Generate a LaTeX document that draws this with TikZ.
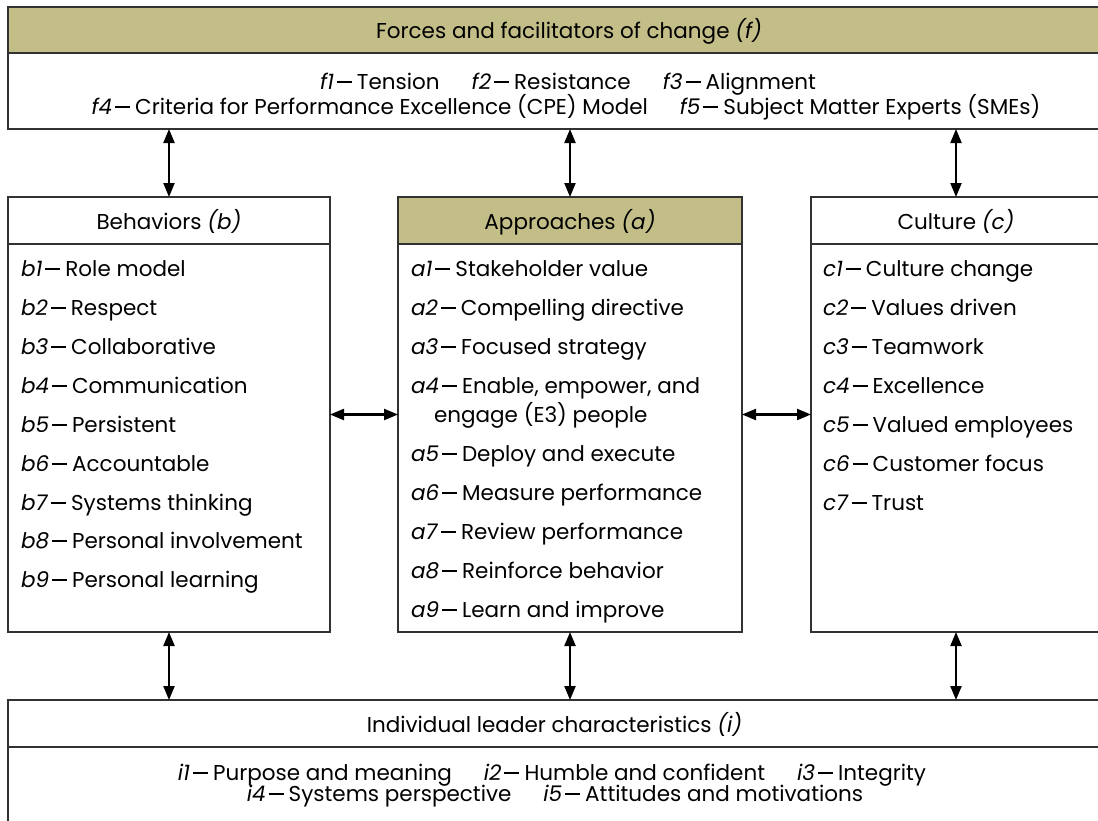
\documentclass[tikz,border=0pt]{standalone}
\usepackage{fontspec}
\setmainfont{Poppins}
\usetikzlibrary{arrows.meta,calc}
\definecolor{olive}{RGB}{195,190,135}
\definecolor{edge}{RGB}{50,50,50}
\newcommand\dd{\kern3pt\rule[6.5pt]{15pt}{1.3pt}\kern5pt}
\newcommand\itm[2]{\textit{#1}\dd #2}
\newcommand\gap{\hskip 32pt}
\newcommand\tfont{\fontsize{21.5}{25}\selectfont}
\newlength\dashw
\begin{document}
\begin{tikzpicture}[x=1pt,y=-1pt,
  frame/.style={draw=edge, line width=1.3pt, inner sep=0pt, outer sep=0pt, anchor=north west},
  txt/.style={inner sep=0pt, outer sep=0pt, font=\tfont, anchor=base west},
  head/.style={inner sep=0pt, outer sep=0pt, font=\tfont, anchor=base},
  link/.style={line width=2.2pt, {Triangle[length=14pt,width=11pt]}-{Triangle[length=14pt,width=11pt]}}]
\useasboundingbox (0,0) rectangle (1098,820);
\fill[white] (0,0) rectangle (1098,820);
\clip (0,0) rectangle (1098,820);
% top box
\node[frame, minimum width=1122pt, minimum height=76pt] (Fb) at (8,53) {};
\node[frame, fill=olive, minimum width=1122pt, minimum height=46pt] (Fh) at (8,7) {};
\node[head] (Ft) at ($(Fh.south)+(0,-15)$) {Forces and facilitators of change \textit{(f)}};
\node[head] (f1) at (568,89) {\itm{f1}{Tension}\gap\itm{f2}{Resistance}\gap\itm{f3}{Alignment}};
\node[head] (f4) at (566,114) {\itm{f4}{Criteria for Performance Excellence (CPE) Model}\gap\itm{f5}{Subject Matter Experts (SMEs)}};
% behaviors
\node[frame, minimum width=322pt, minimum height=435pt] (B) at (8,197) {};
\node[frame, minimum width=322pt, minimum height=47pt] (Bh) at (8,197) {};
\node[head] (Bt) at ($(Bh.south)+(0,-15)$) {Behaviors \textit{(b)}};
\node[txt] (b1) at (21,276) {\itm{b1}{Role model}};
\node[txt] (b2) at (21,315) {\itm{b2}{Respect}};
\node[txt] (b3) at (21,354) {\itm{b3}{Collaborative}};
\node[txt] (b4) at (21,393) {\itm{b4}{Communication}};
\node[txt] (b5) at (21,432) {\itm{b5}{Persistent}};
\node[txt] (b6) at (21,471) {\itm{b6}{Accountable}};
\node[txt] (b7) at (21,510) {\itm{b7}{Systems thinking}};
\node[txt] (b8) at (21,548) {\itm{b8}{Personal involvement}};
\node[txt] (b9) at (21,587) {\itm{b9}{Personal learning}};
% approaches
\node[frame, minimum width=344pt, minimum height=435pt] (A) at (398,197) {};
\node[frame, fill=olive, minimum width=344pt, minimum height=47pt] (Ah) at (398,197) {};
\node[head] (At) at ($(Ah.south)+(0,-15)$) {Approaches \textit{(a)}};
\node[txt] (a1) at (411,276) {\itm{a1}{Stakeholder value}};
\node[txt] (a2) at (411,315) {\itm{a2}{Compelling directive}};
\node[txt] (a3) at (411,354) {\itm{a3}{Focused strategy}};
\node[txt] (a4) at (411,393) {\itm{a4}{Enable, empower, and}};
\settowidth{\dashw}{\tfont\textit{a4}\dd}
\node[txt] (a4b) at ($(a4.base west)+(\dashw,29)$) {engage (E3) people};
\node[txt] (a5) at (411,461) {\itm{a5}{Deploy and execute}};
\node[txt] (a6) at (411,500) {\itm{a6}{Measure performance}};
\node[txt] (a7) at (411,539) {\itm{a7}{Review performance}};
\node[txt] (a8) at (411,578) {\itm{a8}{Reinforce behavior}};
\node[txt] (a9) at (411,617) {\itm{a9}{Learn and improve}};
% culture
\node[frame, minimum width=290pt, minimum height=435pt] (C) at (811,197) {};
\node[frame, minimum width=290pt, minimum height=47pt] (Ch) at (811,197) {};
\node[head] (Ct) at ($(Ch.south)+(0,-15)$) {Culture \textit{(c)}};
\node[txt] (c1) at (823,276) {\itm{c1}{Culture change}};
\node[txt] (c2) at (823,315) {\itm{c2}{Values driven}};
\node[txt] (c3) at (823,354) {\itm{c3}{Teamwork}};
\node[txt] (c4) at (823,393) {\itm{c4}{Excellence}};
\node[txt] (c5) at (823,432) {\itm{c5}{Valued employees}};
\node[txt] (c6) at (823,471) {\itm{c6}{Customer focus}};
\node[txt] (c7) at (823,510) {\itm{c7}{Trust}};
% individual
\node[frame, minimum width=1093pt, minimum height=140pt] (I) at (8,700) {};
\node[frame, minimum width=1093pt, minimum height=47pt] (Ih) at (8,700) {};
\node[head] (It) at ($(Ih.south)+(0,-15)$) {Individual leader characteristics \textit{(i)}};
\node[head] (i1) at (552,780) {\itm{i1}{Purpose and meaning}\gap\itm{i2}{Humble and confident}\gap\itm{i3}{Integrity}};
\node[head] (i4) at (555,801) {\itm{i4}{Systems perspective}\gap\itm{i5}{Attitudes and motivations}};
% connectors
\draw[link] (Fb.south -| B.north) -- (B.north);
\draw[link] (Fb.south -| A.north) -- (A.north);
\draw[link] (Fb.south -| C.north) -- (C.north);
\draw[link] (B.east) -- (A.west);
\draw[link] (A.east) -- (C.west);
\draw[link] (B.south) -- (I.north -| B.south);
\draw[link] (A.south) -- (I.north -| A.south);
\draw[link] (C.south) -- (I.north -| C.south);
\end{tikzpicture}
\end{document}
